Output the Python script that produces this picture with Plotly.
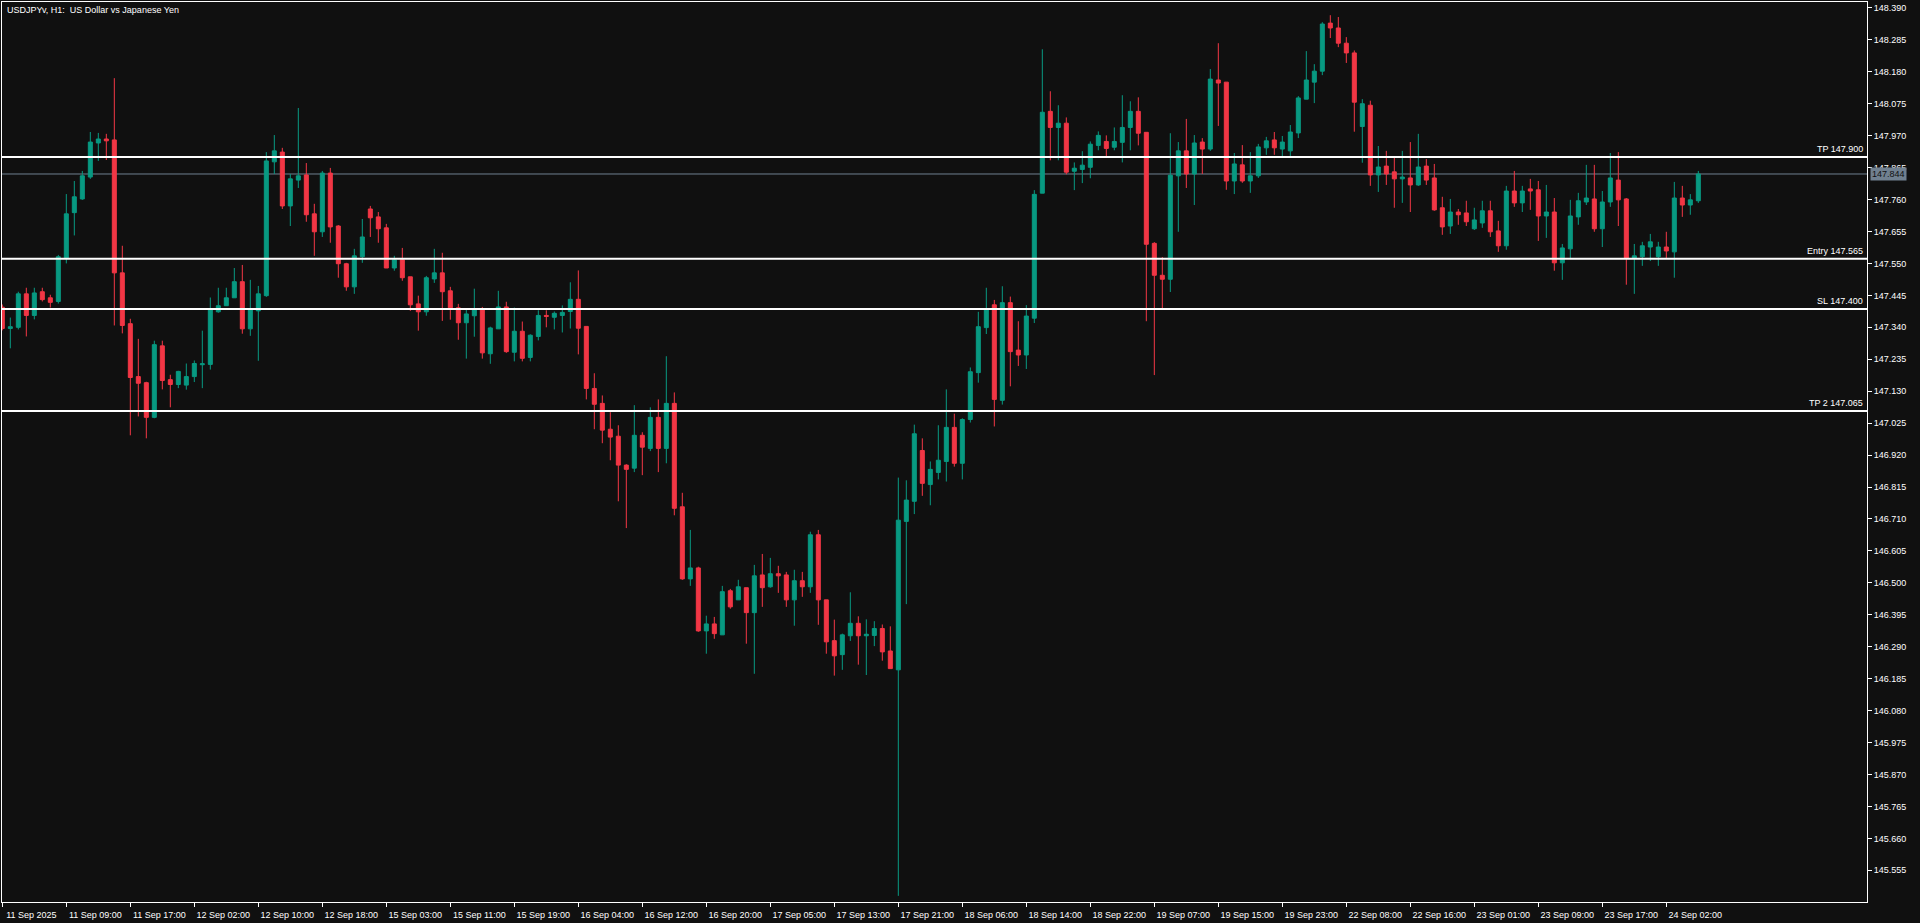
import plotly.graph_objects as go

title_text = "USDJPYv, H1:  US Dollar vs Japanese Yen"

open_ = [
    147.406, 147.336, 147.340, 147.450, 147.379, 147.457, 147.437, 147.425, 147.566, 147.717,
    147.762, 147.834, 147.946, 147.959, 147.956, 147.519, 147.352, 147.178, 147.158, 147.044,
    147.279, 147.168, 147.152, 147.150, 147.178, 147.217, 147.218, 147.391, 147.411, 147.437,
    147.490, 147.335, 147.394, 147.444, 147.884, 147.916, 147.739, 147.824, 147.841, 147.713,
    147.654, 147.847, 147.673, 147.549, 147.473, 147.572, 147.729, 147.703, 147.667, 147.535,
    147.562, 147.506, 147.417, 147.391, 147.499, 147.519, 147.460, 147.404, 147.355, 147.378,
    147.398, 147.253, 147.335, 147.407, 147.258, 147.327, 147.241, 147.310, 147.379, 147.373,
    147.379, 147.392, 147.432, 147.343, 147.139, 147.090, 147.005, 146.982, 146.887, 146.877,
    146.985, 146.942, 147.044, 146.942, 147.090, 146.750, 146.513, 146.549, 146.342, 146.365,
    146.329, 146.474, 146.444, 146.484, 146.402, 146.526, 146.487, 146.530, 146.526, 146.444,
    146.507, 146.487, 146.658, 146.444, 146.310, 146.264, 146.326, 146.367, 146.326, 146.327,
    146.350, 146.276, 146.214, 146.702, 146.768, 146.935, 146.823, 146.863, 146.899, 147.011,
    146.893, 147.037, 147.191, 147.339, 147.414, 147.100, 147.421, 147.265, 147.249, 147.370,
    147.781, 148.050, 147.997, 148.011, 147.853, 147.859, 147.866, 147.938, 147.951, 147.932,
    147.948, 147.997, 148.050, 147.981, 147.616, 147.511, 147.498, 147.838, 147.920, 147.844,
    147.949, 147.926, 148.153, 148.146, 147.821, 147.874, 147.821, 147.838, 147.930, 147.956,
    147.926, 147.920, 147.979, 148.090, 148.146, 148.182, 148.340, 148.324, 148.274, 148.242,
    148.000, 148.070, 147.841, 147.870, 147.851, 147.828, 147.831, 147.808, 147.870, 147.831,
    147.733, 147.673, 147.719, 147.716, 147.664, 147.683, 147.723, 147.657, 147.608, 147.788,
    147.749, 147.795, 147.792, 147.706, 147.719, 147.552, 147.598, 147.703, 147.752, 147.762,
    147.664, 147.752, 147.824, 147.762, 147.568, 147.572, 147.604, 147.572, 147.604, 147.588,
    147.765, 147.742, 147.756,
]
high = [
    147.415, 147.372, 147.457, 147.470, 147.470, 147.470, 147.447, 147.578, 147.778, 147.821,
    147.854, 147.982, 147.979, 147.976, 148.159, 147.608, 147.368, 147.302, 147.161, 147.296,
    147.296, 147.184, 147.197, 147.221, 147.231, 147.329, 147.438, 147.470, 147.470, 147.535,
    147.545, 147.496, 147.476, 147.916, 147.972, 147.930, 147.844, 148.061, 147.880, 147.746,
    147.854, 147.864, 147.676, 147.552, 147.598, 147.696, 147.739, 147.719, 147.680, 147.575,
    147.601, 147.506, 147.444, 147.509, 147.598, 147.585, 147.473, 147.417, 147.398, 147.467,
    147.407, 147.342, 147.460, 147.424, 147.405, 147.359, 147.317, 147.396, 147.396, 147.392,
    147.412, 147.488, 147.527, 147.343, 147.189, 147.116, 147.061, 147.018, 146.890, 147.084,
    146.995, 147.077, 147.103, 147.245, 147.126, 146.796, 146.674, 146.553, 146.392, 146.388,
    146.490, 146.480, 146.510, 146.484, 146.559, 146.595, 146.582, 146.556, 146.536, 146.543,
    146.536, 146.668, 146.674, 146.444, 146.379, 146.333, 146.469, 146.390, 146.380, 146.374,
    146.363, 146.357, 146.846, 146.837, 147.020, 146.975, 146.899, 147.018, 147.136, 147.056,
    147.041, 147.208, 147.391, 147.470, 147.430, 147.475, 147.441, 147.360, 147.413, 147.791,
    148.254, 148.116, 148.070, 148.030, 147.882, 147.919, 147.951, 147.984, 147.971, 147.997,
    148.103, 148.083, 148.096, 147.981, 147.620, 147.571, 147.978, 147.949, 148.025, 147.972,
    147.962, 148.189, 148.274, 148.146, 147.913, 147.939, 147.916, 147.943, 147.966, 147.982,
    147.969, 148.005, 148.100, 148.248, 148.205, 148.343, 148.366, 148.360, 148.294, 148.250,
    148.090, 148.085, 147.936, 147.920, 147.897, 147.920, 147.949, 147.976, 147.893, 147.877,
    147.769, 147.762, 147.729, 147.756, 147.733, 147.756, 147.756, 147.690, 147.805, 147.854,
    147.805, 147.828, 147.821, 147.808, 147.765, 147.614, 147.759, 147.782, 147.874, 147.874,
    147.788, 147.913, 147.916, 147.765, 147.614, 147.621, 147.647, 147.621, 147.654, 147.818,
    147.805, 147.778, 147.854,
]
low = [
    147.330, 147.271, 147.333, 147.310, 147.366, 147.425, 147.405, 147.418, 147.550, 147.642,
    147.759, 147.828, 147.887, 147.890, 147.346, 147.320, 146.985, 147.047, 146.975, 147.041,
    147.136, 147.077, 147.140, 147.135, 147.160, 147.140, 147.201, 147.388, 147.411, 147.437,
    147.319, 147.312, 147.230, 147.440, 147.844, 147.729, 147.673, 147.798, 147.687, 147.575,
    147.637, 147.618, 147.503, 147.460, 147.450, 147.552, 147.637, 147.618, 147.535, 147.526,
    147.493, 147.394, 147.329, 147.378, 147.486, 147.361, 147.365, 147.299, 147.237, 147.309,
    147.237, 147.220, 147.335, 147.256, 147.228, 147.228, 147.228, 147.297, 147.340, 147.333,
    147.323, 147.336, 147.251, 147.103, 147.005, 146.959, 146.903, 146.768, 146.680, 146.864,
    146.854, 146.933, 146.864, 146.893, 146.722, 146.510, 146.490, 146.339, 146.267, 146.316,
    146.329, 146.415, 146.444, 146.300, 146.201, 146.421, 146.484, 146.467, 146.421, 146.359,
    146.454, 146.467, 146.362, 146.267, 146.195, 146.214, 146.309, 146.231, 146.197, 146.292,
    146.244, 146.218, 145.471, 146.430, 146.726, 146.786, 146.755, 146.840, 146.833, 146.882,
    146.840, 147.027, 147.158, 147.318, 147.014, 147.086, 147.146, 147.213, 147.203, 147.354,
    147.781, 147.889, 147.889, 147.843, 147.791, 147.814, 147.830, 147.922, 147.902, 147.922,
    147.882, 147.922, 147.938, 147.360, 147.183, 147.403, 147.456, 147.654, 147.798, 147.742,
    147.844, 147.920, 148.002, 147.792, 147.778, 147.815, 147.782, 147.831, 147.907, 147.907,
    147.903, 147.903, 147.962, 148.090, 148.077, 148.169, 148.291, 148.261, 148.209, 147.983,
    147.881, 147.805, 147.785, 147.808, 147.733, 147.749, 147.719, 147.805, 147.808, 147.723,
    147.644, 147.647, 147.677, 147.673, 147.660, 147.667, 147.637, 147.588, 147.595, 147.736,
    147.719, 147.726, 147.624, 147.634, 147.526, 147.496, 147.565, 147.677, 147.742, 147.654,
    147.604, 147.736, 147.673, 147.480, 147.450, 147.542, 147.558, 147.542, 147.568, 147.503,
    147.703, 147.710, 147.749,
]
close = [
    147.336, 147.342, 147.450, 147.379, 147.453, 147.431, 147.422, 147.572, 147.713, 147.769,
    147.838, 147.949, 147.959, 147.953, 147.519, 147.346, 147.175, 147.156, 147.044, 147.283,
    147.165, 147.152, 147.195, 147.178, 147.221, 147.220, 147.401, 147.411, 147.437, 147.490,
    147.335, 147.398, 147.450, 147.887, 147.920, 147.739, 147.828, 147.838, 147.710, 147.654,
    147.847, 147.670, 147.549, 147.473, 147.575, 147.637, 147.700, 147.664, 147.535, 147.562,
    147.503, 147.414, 147.391, 147.503, 147.519, 147.457, 147.404, 147.355, 147.384, 147.398,
    147.256, 147.338, 147.407, 147.260, 147.327, 147.238, 147.314, 147.379, 147.376, 147.386,
    147.389, 147.432, 147.337, 147.139, 147.087, 147.002, 146.979, 146.887, 146.873, 146.985,
    146.946, 147.044, 146.942, 147.090, 146.745, 146.513, 146.549, 146.342, 146.365, 146.333,
    146.471, 146.421, 146.487, 146.402, 146.523, 146.484, 146.530, 146.523, 146.444, 146.507,
    146.487, 146.658, 146.444, 146.306, 146.260, 146.329, 146.367, 146.326, 146.331, 146.350,
    146.273, 146.218, 146.706, 146.772, 146.990, 146.827, 146.873, 146.903, 147.011, 146.893,
    147.037, 147.194, 147.342, 147.400, 147.103, 147.421, 147.260, 147.249, 147.377, 147.777,
    148.047, 147.997, 148.011, 147.850, 147.863, 147.873, 147.942, 147.971, 147.928, 147.951,
    147.997, 148.050, 147.978, 147.613, 147.511, 147.498, 147.840, 147.920, 147.844, 147.946,
    147.926, 148.156, 148.143, 147.821, 147.877, 147.821, 147.838, 147.933, 147.953, 147.930,
    147.949, 147.982, 148.094, 148.153, 148.182, 148.337, 148.324, 148.274, 148.242, 148.080,
    148.075, 147.841, 147.867, 147.844, 147.828, 147.834, 147.808, 147.867, 147.824, 147.726,
    147.670, 147.719, 147.710, 147.687, 147.693, 147.723, 147.654, 147.608, 147.788, 147.749,
    147.788, 147.788, 147.706, 147.719, 147.552, 147.601, 147.706, 147.756, 147.765, 147.664,
    147.752, 147.831, 147.759, 147.568, 147.575, 147.608, 147.621, 147.604, 147.591, 147.765,
    147.742, 147.759, 147.844,
]
bar_index = list(range(len(close)))

x_tick_labels = [
    "11 Sep 2025", "11 Sep 09:00", "11 Sep 17:00", "12 Sep 02:00", "12 Sep 10:00",
    "12 Sep 18:00", "15 Sep 03:00", "15 Sep 11:00", "15 Sep 19:00", "16 Sep 04:00",
    "16 Sep 12:00", "16 Sep 20:00", "17 Sep 05:00", "17 Sep 13:00", "17 Sep 21:00",
    "18 Sep 06:00", "18 Sep 14:00", "18 Sep 22:00", "19 Sep 07:00", "19 Sep 15:00",
    "19 Sep 23:00", "22 Sep 08:00", "22 Sep 16:00", "23 Sep 01:00", "23 Sep 09:00",
    "23 Sep 17:00", "24 Sep 02:00",
]
x_tick_step = 8

y_tick_values = [
    148.390, 148.285, 148.180, 148.075, 147.970, 147.865, 147.760, 147.655, 147.550,
    147.445, 147.340, 147.235, 147.130, 147.025, 146.920, 146.815, 146.710, 146.605,
    146.500, 146.395, 146.290, 146.185, 146.080, 145.975, 145.870, 145.765, 145.660,
    145.555,
]

level_names = ["TP", "Entry", "SL", "TP 2"]
level_values = [147.900, 147.565, 147.400, 147.065]
bid_price = 147.844

BG = "#101010"
UP = "#089981"
DOWN = "#f23645"
BID = "#708090"
FONT = "Liberation Sans"

fig = go.Figure()
fig.add_trace(go.Candlestick(
    x=bar_index, open=open_, high=high, low=low, close=close,
    increasing=dict(line=dict(color=UP, width=1), fillcolor=UP),
    decreasing=dict(line=dict(color=DOWN, width=1), fillcolor=DOWN),
    whiskerwidth=0, hoverinfo="skip", showlegend=False,
))

# bid line
fig.add_shape(type="line", xref="paper", x0=0, x1=1, yref="y", y0=bid_price, y1=bid_price,
              line=dict(color=BID, width=1), layer="below")

for name, val in zip(level_names, level_values):
    fig.add_shape(type="line", xref="paper", x0=0, x1=1, yref="y", y0=val, y1=val,
                  line=dict(color="#ffffff", width=2))
    fig.add_annotation(xref="paper", x=1, xanchor="right", xshift=-2,
                       yref="y", y=val, yanchor="bottom", yshift=1,
                       text=f"{name} {val:.3f}", showarrow=False,
                       font=dict(family=FONT, size=9, color="#ffffff"))

fig.add_annotation(xref="paper", x=1, xanchor="left", xshift=3,
                   yref="y", y=bid_price, yanchor="middle",
                   text=f"{bid_price:.3f}", showarrow=False, bgcolor=BID, borderpad=1,
                   font=dict(family=FONT, size=9, color="#101010"))

fig.add_annotation(xref="paper", x=0, xanchor="left", xshift=3,
                   yref="paper", y=1, yanchor="top", yshift=-1,
                   text=title_text, showarrow=False,
                   font=dict(family=FONT, size=9, color="#ffffff"))

tick_positions = [bar_index[k * x_tick_step] for k in range(len(x_tick_labels))]

fig.update_layout(
    width=1920, height=923,
    margin=dict(l=2, r=53, t=2, b=21),
    paper_bgcolor=BG, plot_bgcolor=BG,
    showlegend=False, boxgap=0.5, boxgroupgap=0,
    font=dict(family=FONT, size=9, color="#ffffff"),
    xaxis=dict(
        range=[-0.04, 233.085], tickmode="array", tickvals=tick_positions,
        ticktext=x_tick_labels, ticks="outside", ticklen=4, tickcolor="#ffffff",
        showline=True, mirror=True, linecolor="#ffffff", linewidth=1,
        showgrid=False, zeroline=False, rangeslider=dict(visible=False),
        ticklabelshift=29, tickfont=dict(family=FONT, size=9, color="#ffffff"),
    ),
    yaxis=dict(
        side="right", range=[145.4508, 148.4094], tickmode="array",
        tickvals=y_tick_values, tickformat=".3f", ticks="outside", ticklen=4,
        tickcolor="#ffffff", showline=True, mirror=True, linecolor="#ffffff",
        linewidth=1, showgrid=False, zeroline=False,
        tickfont=dict(family=FONT, size=9, color="#ffffff"),
    ),
)

fig.write_html(
    "out.html",
    config={"displayModeBar": False},
    post_script="document.body.style.margin='0';document.body.style.background='#101010';"
                "document.body.style.overflow='hidden';",
)
